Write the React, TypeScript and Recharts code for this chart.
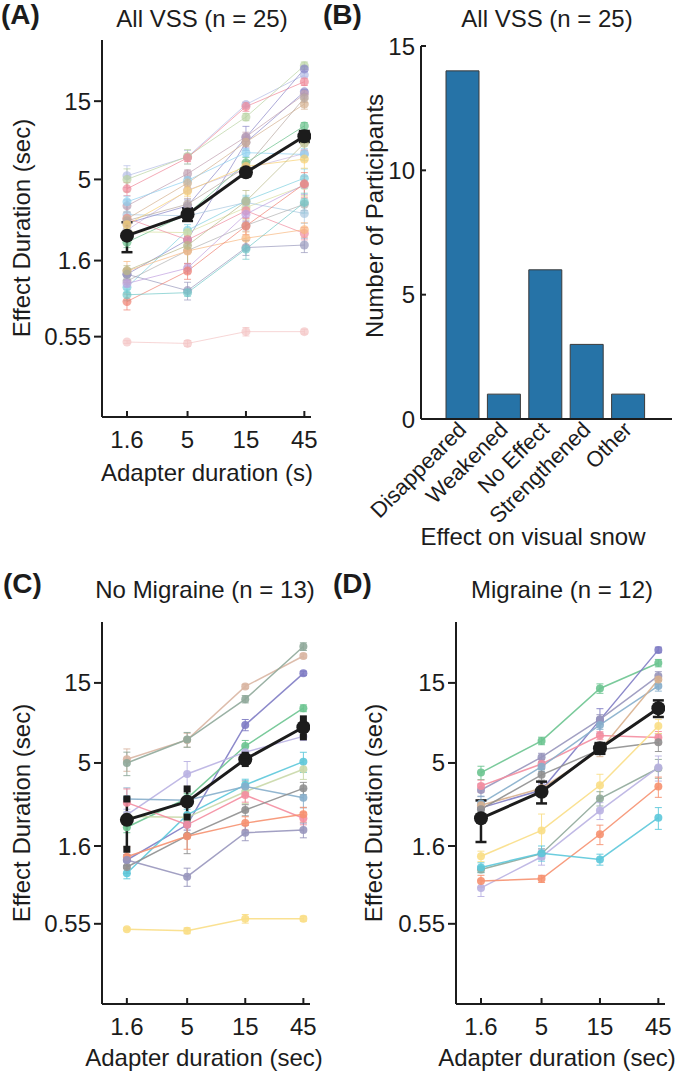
import { LineChart, Line, XAxis, YAxis, ErrorBar, BarChart, Bar } from 'recharts'

const INK = '#1c1c1c'
const FONT = "'Liberation Sans', Arial, Helvetica, sans-serif"

const adapterDurations = [1.6, 5, 15, 45]
const effectTicks = [0.55, 1.6, 5, 15]

// panel C: no migraine, one row per participant, values at 1.6 / 5 / 15 / 45 s
const noMigraineValues = [
  [5.26, 6.86, 14.3, 21.7],
  [5.0, 6.9, 12.0, 24.7],
  [1.32, 2.14, 8.43, 17.1],
  [2.07, 3.08, 6.31, 10.6],
  [2.45, 4.3, 5.8, 7.2],
  [1.1, 2.45, 3.7, 5.09],
  [2.4, 2.37, 3.37, 4.59],
  [3.05, 3.0, 3.62, 3.1],
  [2.9, 2.14, 3.22, 2.34],
  [1.2, 1.84, 2.62, 3.53],
  [1.38, 1.83, 2.19, 2.47],
  [1.32, 1.05, 1.92, 1.99],
  [0.51, 0.5, 0.59, 0.59],
]
const noMigraineErrs = [
  [0.8, 0.65, 0.4, 0.6],
  [0.8, 0.7, 0.6, 1.3],
  [0.1, 0.15, 0.65, 0.5],
  [0.15, 0.2, 0.5, 0.5],
  [0.2, 0.8, 0.5, 0.4],
  [0.08, 0.2, 0.3, 0.7],
  [0.1, 0.1, 0.5, 0.6],
  [0.5, 0.2, 0.3, 0.4],
  [0.6, 0.3, 0.3, 0.2],
  [0.1, 0.4, 0.2, 0.3],
  [0.2, 0.3, 0.2, 0.25],
  [0.1, 0.13, 0.2, 0.2],
  [0.01, 0.02, 0.035, 0.02],
]
const noMigraineColors = [
  '#d9b6a3', '#8fa89a', '#7f7cc4', '#6cc490', '#b9b1e2', '#5cc8da', '#c9d8a9',
  '#86aecb', '#f48da0', '#8f8f8f', '#f69170', '#9896bd', '#fade86',
]
const noMigraineMean = [2.29, 2.94, 5.26, 8.16]
const noMigraineMeanErr = [0.76, 0.56, 0.3, 1.0]

// panel D: migraine
const migraineValues = [
  [4.38, 6.77, 13.9, 19.7],
  [2.7, 3.45, 9.03, 23.6],
  [3.45, 5.41, 9.1, 16.5],
  [3.65, 4.93, 7.28, 7.1],
  [2.87, 4.75, 8.43, 14.4],
  [2.8, 3.53, 5.95, 15.7],
  [2.65, 4.25, 6.0, 6.65],
  [1.39, 1.98, 3.68, 8.3],
  [1.16, 1.44, 3.07, 4.65],
  [0.9, 1.38, 2.6, 4.7],
  [0.99, 1.02, 1.88, 3.62],
  [1.19, 1.45, 1.33, 2.36],
]
const migraineErrs = [
  [0.4, 0.35, 0.9, 1.0],
  [0.2, 0.3, 1.5, 0.9],
  [0.3, 0.3, 0.6, 1.0],
  [0.3, 0.3, 0.4, 0.6],
  [0.3, 0.3, 0.5, 1.0],
  [0.2, 0.3, 0.5, 1.0],
  [0.2, 0.3, 0.4, 0.8],
  [0.1, 0.5, 0.6, 0.8],
  [0.05, 0.1, 0.3, 0.6],
  [0.1, 0.15, 0.3, 0.8],
  [0.08, 0.05, 0.25, 0.5],
  [0.08, 0.15, 0.1, 0.35],
]
const migraineColors = [
  '#6cc490', '#7f7cc4', '#9896bd', '#f48da0', '#86aecb', '#d8b08e',
  '#8f8f8f', '#fade86', '#8fa89a', '#b9b1e2', '#f69170', '#5cc8da',
]
const migraineMean = [2.34, 3.37, 6.12, 10.6]
const migraineMeanErr = [0.65, 0.5, 0.45, 1.2]

// panel A: all VSS = both groups together
const allColors = [
  '#b4bce6', '#b9d3a3', '#8c88c8', '#66c08a', '#c9b7e0', '#7fd0e0', '#d8e0a0',
  '#a8c8e0', '#f08ca0', '#b0b0b0', '#f8b880', '#9898bc', '#f4c4c4',
  '#f08898', '#8a86c8', '#c0a0b0', '#8fd0f0', '#d4b090', '#b8a8a0', '#f8d070',
  '#b8b888', '#c0a0e0', '#f08070', '#70c8c8',
]
const allMean = [2.27, 3.06, 5.52, 9.16]
const allMeanErr = [0.47, 0.27, 0.28, 0.7]

// panel B
const effectCategories = ['Disappeared', 'Weakened', 'No Effect', 'Strengthened', 'Other']
const participantCounts = [14, 1, 6, 3, 1]
const countTicks = [0, 5, 10, 15]

function buildRows(values: number[][], errs: number[][], mean: number[], meanErr: number[]) {
  return adapterDurations.map((x, i) => {
    const row: Record<string, number> = {
      x,
      mean: mean[i],
      meanErr: meanErr[i],
      hi: mean[i] + meanErr[i],
      lo: mean[i] - meanErr[i],
    }
    values.forEach((v, k) => {
      row[`p${k}`] = v[i]
      row[`e${k}`] = errs[k][i]
    })
    return row
  })
}

const allRows = buildRows(
  [...noMigraineValues, ...migraineValues],
  [...noMigraineErrs, ...migraineErrs],
  allMean,
  allMeanErr,
)
const noMigraineRows = buildRows(noMigraineValues, noMigraineErrs, noMigraineMean, noMigraineMeanErr)
const migraineRows = buildRows(migraineValues, migraineErrs, migraineMean, migraineMeanErr)
const barRows = effectCategories.map((category, i) => ({ category, count: participantCounts[i] }))

function XTick(props: any) {
  const { x, y, payload } = props
  return (
    <g>
      <line x1={x} x2={x} y1={y} y2={y - 6} stroke={INK} strokeWidth={2} />
      <text x={x} y={y + 31} textAnchor="middle" fontSize={24} fill={INK}>
        {payload.value}
      </text>
    </g>
  )
}

function CountTick(props: any) {
  const { x, y, payload } = props
  return (
    <g>
      <line x1={x} x2={x + 5} y1={y} y2={y} stroke={INK} strokeWidth={2} />
      <text x={x - 6} y={y} textAnchor="end" dominantBaseline="central" fontSize={24} fill={INK}>
        {payload.value}
      </text>
    </g>
  )
}

function CategoryTick(props: any) {
  const { x, y, payload } = props
  const tx = x + 5
  const ty = y + 12
  return (
    <text x={tx} y={ty} textAnchor="end" fontSize={22} fill={INK} transform={`rotate(-45 ${tx} ${ty})`}>
      {payload.value}
    </text>
  )
}

const squareDot = (size: number) => (props: any) => {
  if (props.cx == null || props.cy == null) return <g key={`s${props.index}`} />
  return (
    <rect
      key={`s${props.index}`}
      x={props.cx - size / 2}
      y={props.cy - size / 2}
      width={size}
      height={size}
      fill={INK}
    />
  )
}

type PanelProps = {
  left: number
  top: number
  width: number
  height: number
  marginTop: number
  marginRight: number
  yWidth: number
  xHeight: number
  yDomain: [number, number]
  rows: Record<string, number>[]
  colors: string[]
  lineWidth: number
  dotR: number
  opacity: number
  squareCaps?: boolean
}

function DurationPanel(p: PanelProps) {
  return (
    <div style={{ position: 'absolute', left: p.left, top: p.top }}>
      <LineChart
        width={p.width}
        height={p.height}
        data={p.rows}
        margin={{ top: p.marginTop, right: p.marginRight, bottom: 0, left: 0 }}
      >
        <XAxis
          dataKey="x"
          type="number"
          scale="log"
          domain={[1, 51]}
          allowDataOverflow
          ticks={adapterDurations}
          interval={0}
          height={p.xHeight}
          tickSize={0}
          tickMargin={0}
          tickLine={false}
          tick={(t: any) => <XTick {...t} />}
          axisLine={{ stroke: INK, strokeWidth: 2 }}
        />
        <YAxis
          type="number"
          scale="log"
          domain={p.yDomain}
          allowDataOverflow
          ticks={effectTicks}
          interval={0}
          width={p.yWidth}
          tickSize={8}
          tickMargin={3}
          tick={{ fontSize: 24, fill: INK }}
          tickLine={{ stroke: INK, strokeWidth: 2 }}
          axisLine={{ stroke: INK, strokeWidth: 2 }}
        />
        {p.colors.map((c, k) => (
          <Line
            key={k}
            dataKey={`p${k}`}
            stroke={c}
            strokeWidth={p.lineWidth}
            strokeOpacity={p.opacity}
            dot={{ r: p.dotR, fill: c, fillOpacity: p.opacity, stroke: 'none' }}
            activeDot={false}
            isAnimationActive={false}
          >
            <ErrorBar
              dataKey={`e${k}`}
              direction="y"
              width={3.5}
              stroke={c}
              strokeOpacity={p.opacity}
              strokeWidth={1}
              isAnimationActive={false}
            />
          </Line>
        ))}
        <Line
          dataKey="mean"
          stroke={INK}
          strokeWidth={3}
          dot={{ r: 7, fill: INK, stroke: 'none' }}
          activeDot={false}
          isAnimationActive={false}
        >
          <ErrorBar
            dataKey="meanErr"
            direction="y"
            width={p.squareCaps ? 0 : 5.5}
            stroke={INK}
            strokeWidth={2.5}
            isAnimationActive={false}
          />
        </Line>
        {p.squareCaps && (
          <Line dataKey="hi" stroke="none" dot={squareDot(7)} activeDot={false} isAnimationActive={false} />
        )}
        {p.squareCaps && (
          <Line dataKey="lo" stroke="none" dot={squareDot(7)} activeDot={false} isAnimationActive={false} />
        )}
      </LineChart>
    </div>
  )
}

function Txt({
  x,
  y,
  children,
  size = 24,
  bold = false,
  rotate = false,
  left = false,
}: {
  x: number
  y: number
  children: any
  size?: number
  bold?: boolean
  rotate?: boolean
  left?: boolean
}) {
  return (
    <div
      style={{
        position: 'absolute',
        left: x,
        top: y,
        transform: left ? 'translate(0, -50%)' : `translate(-50%, -50%)${rotate ? ' rotate(-90deg)' : ''}`,
        fontSize: size,
        fontWeight: bold ? 700 : 400,
        lineHeight: 1,
        whiteSpace: 'nowrap',
        color: INK,
      }}
    >
      {children}
    </div>
  )
}

export default function App() {
  return (
    <div
      style={{
        position: 'absolute',
        left: 0,
        top: 0,
        width: 676,
        height: 1076,
        overflow: 'hidden',
        background: '#fff',
        fontFamily: FONT,
      }}
    >
      {/* (A) all VSS */}
      <DurationPanel
        left={0}
        top={0}
        width={330}
        height={500}
        marginTop={40}
        marginRight={19}
        yWidth={102}
        xHeight={83}
        yDomain={[0.178, 35.4]}
        rows={allRows}
        colors={allColors}
        lineWidth={1}
        dotR={4.5}
        opacity={0.7}
      />

      {/* (B) effect on visual snow */}
      <div style={{ position: 'absolute', left: 330, top: 0 }}>
        <BarChart width={346} height={560} data={barRows} margin={{ top: 46, right: 4, bottom: 0, left: 0 }}>
          <XAxis
            dataKey="category"
            type="category"
            interval={0}
            padding={{ left: 21, right: 23 }}
            height={141}
            tickSize={0}
            tickMargin={0}
            tickLine={false}
            tick={(t: any) => <CategoryTick {...t} />}
            axisLine={{ stroke: INK, strokeWidth: 2 }}
          />
          <YAxis
            type="number"
            domain={[0, 15]}
            ticks={countTicks}
            interval={0}
            width={91}
            tickSize={0}
            tickMargin={0}
            tickLine={false}
            tick={(t: any) => <CountTick {...t} />}
            axisLine={{ stroke: INK, strokeWidth: 2 }}
          />
          <Bar dataKey="count" fill="#2673a7" stroke="#3a3a3a" strokeWidth={1} barSize={33} isAnimationActive={false} />
        </BarChart>
      </div>

      {/* (C) no migraine */}
      <DurationPanel
        left={0}
        top={570}
        width={330}
        height={506}
        marginTop={52}
        marginRight={20}
        yWidth={102}
        xHeight={72}
        yDomain={[0.183, 34.6]}
        rows={noMigraineRows}
        colors={noMigraineColors}
        lineWidth={1.5}
        dotR={4}
        opacity={0.9}
        squareCaps
      />

      {/* (D) migraine */}
      <DurationPanel
        left={350}
        top={570}
        width={326}
        height={506}
        marginTop={52}
        marginRight={11}
        yWidth={106}
        xHeight={72}
        yDomain={[0.183, 34.6]}
        rows={migraineRows}
        colors={migraineColors}
        lineWidth={1.5}
        dotR={4}
        opacity={0.9}
      />

      <Txt x={1} y={15} size={28} bold left>(A)</Txt>
      <Txt x={323} y={15} size={28} bold left>(B)</Txt>
      <Txt x={3} y={584} size={28} bold left>(C)</Txt>
      <Txt x={333} y={584} size={28} bold left>(D)</Txt>

      <Txt x={202} y={19}>All VSS (n = 25)</Txt>
      <Txt x={547} y={19}>All VSS (n = 25)</Txt>
      <Txt x={205} y={590}>No Migraine (n = 13)</Txt>
      <Txt x={562} y={590}>Migraine (n = 12)</Txt>

      <Txt x={22} y={228} rotate>Effect Duration (sec)</Txt>
      <Txt x={375} y={216} rotate>Number of Participants</Txt>
      <Txt x={22} y={813} rotate>Effect Duration (sec)</Txt>
      <Txt x={374} y={813} rotate>Effect Duration (sec)</Txt>

      <Txt x={207} y={473}>Adapter duration (s)</Txt>
      <Txt x={533} y={537}>Effect on visual snow</Txt>
      <Txt x={204} y={1058}>Adapter duration (sec)</Txt>
      <Txt x={557} y={1058}>Adapter duration (sec)</Txt>
    </div>
  )
}
